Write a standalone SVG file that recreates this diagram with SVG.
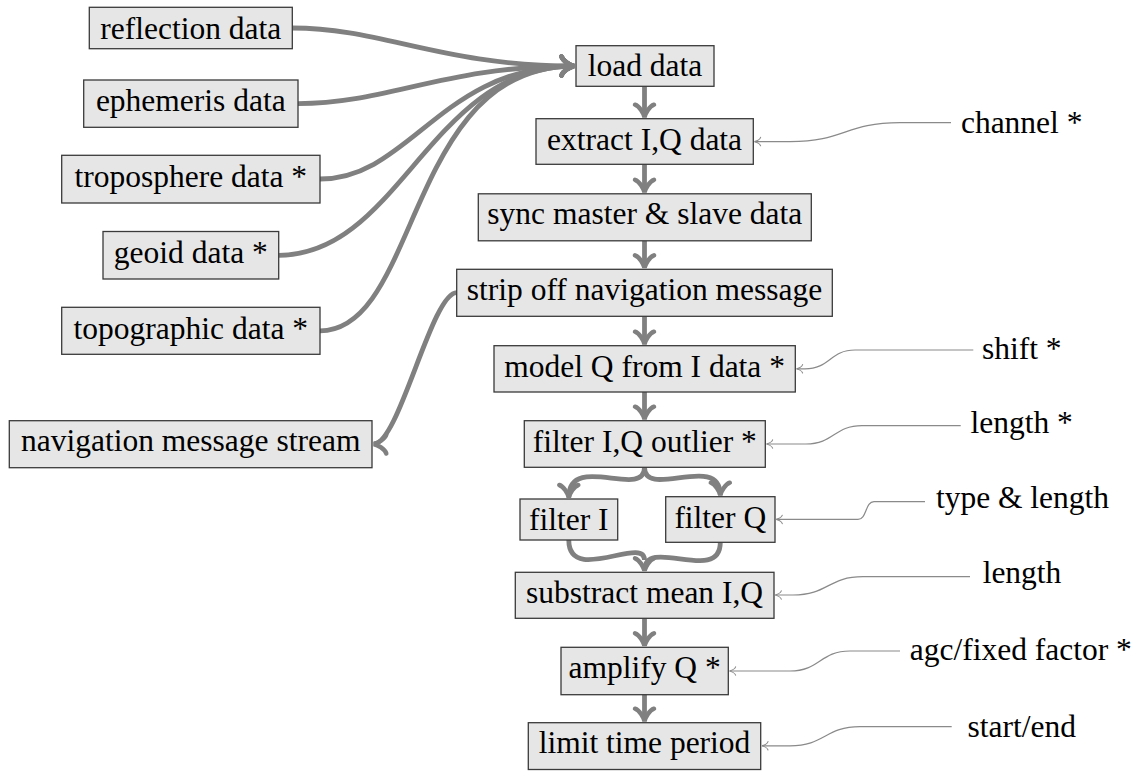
<svg xmlns="http://www.w3.org/2000/svg" width="1137" height="771" viewBox="0 0 1137 771">
<style>
.box{fill:#e6e6e6;stroke:#3a3a3a;stroke-width:1.3}
.t{font-family:"Liberation Serif","Times New Roman",serif;font-size:31.5px;fill:#000;text-anchor:middle}
.thick{fill:none;stroke:#808080;stroke-width:4.8}
.thin{fill:none;stroke:#8a8a8a;stroke-width:1.2}
</style>
<defs>
<marker id="ah" markerUnits="userSpaceOnUse" viewBox="-16 -13 20 26" refX="0" refY="0" markerWidth="20" markerHeight="26" orient="auto">
<path d="M-12.5,-9.5 C-11,-5 -4,-1 0,0 C-4,1 -11,5 -12.5,9.5" fill="none" stroke="#808080" stroke-width="4.5" stroke-linecap="round"/>
</marker>
<marker id="as" markerUnits="userSpaceOnUse" viewBox="-8 -6 10 12" refX="0" refY="0" markerWidth="10" markerHeight="12" orient="auto">
<path d="M-6,-4.2 C-5.5,-2.4 -2,-0.5 0,0 C-2,0.5 -5.5,2.4 -6,4.2" fill="none" stroke="#8a8a8a" stroke-width="1.1" stroke-linecap="round"/>
</marker>
</defs>

<g id="connectors">
<path class="thick" marker-end="url(#ah)" d="M292.3,28 C382,28 441,66 574,66"/>
<path class="thick" marker-end="url(#ah)" d="M298,103.6 C388,103.6 444,66 574,66"/>
<path class="thick" marker-end="url(#ah)" d="M320,179 C410,179 441,66 574,66"/>
<path class="thick" marker-end="url(#ah)" d="M278.7,255.3 C400,255.3 430,66 574,66"/>
<path class="thick" marker-end="url(#ah)" d="M320,330.8 C420,330.8 406,66 574,66"/>
<path class="thick" marker-end="url(#ah)" d="M456.7,292.6 C431.7,292.6 399,444 373.8,444"/>
<path class="thick" marker-end="url(#ah)" d="M644.5,86.3 V117.2"/>
<path class="thick" marker-end="url(#ah)" d="M644.5,164.3 V192.3"/>
<path class="thick" marker-end="url(#ah)" d="M644.5,241 V267.8"/>
<path class="thick" marker-end="url(#ah)" d="M644.5,316.3 V344.2"/>
<path class="thick" marker-end="url(#ah)" d="M644.5,392 V419.2"/>
<path class="thick" marker-end="url(#ah)" d="M644.5,467.3 C644.5,500 568.8,452 568.8,497.5"/>
<path class="thick" marker-end="url(#ah)" d="M644.5,467.3 C644.5,500 720.3,452 720.3,495.2"/>
<path class="thick" d="M568.8,540 C568.8,585 644.5,535 644.5,560"/>
<path class="thick" marker-end="url(#ah)" d="M720.3,542.3 C720.3,585 644.5,535 644.5,570.8"/>
<path class="thick" marker-end="url(#ah)" d="M644.5,618.3 V645.8"/>
<path class="thick" marker-end="url(#ah)" d="M644.5,694.7 V721.2"/>

<path class="thin" marker-end="url(#as)" d="M951,122.7 H900 C845,122.7 845,141.6 790,141.6 H754.6"/>
<path class="thin" marker-end="url(#as)" d="M973.3,350 H855 C830,350 830,368.8 805,368.8 H796.6"/>
<path class="thin" marker-end="url(#as)" d="M960.7,425.7 H862 C834,425.7 834,444 806,444 H766.6"/>
<path class="thin" marker-end="url(#as)" d="M925,501.7 H874 C865,501.7 867,519.4 858,519.4 H776.3"/>
<path class="thin" marker-end="url(#as)" d="M970,576.7 H863 C828,576.7 828,595 793,595 H775.3"/>
<path class="thin" marker-end="url(#as)" d="M900,651 H850 C820,651 820,671 790,671 H729.6"/>
<path class="thin" marker-end="url(#as)" d="M951.7,726.7 H860 C825,726.7 825,745.8 790,745.8 H762"/>
</g>

<g id="n-reflection"><rect class="box" x="89.3" y="7.3" width="203" height="41.4"/><text class="t" x="190.8" y="38.5">reflection data</text></g>
<g id="n-ephemeris"><rect class="box" x="83.7" y="80" width="214.3" height="47.3"/><text class="t" x="190.8" y="110.8">ephemeris data</text></g>
<g id="n-troposphere"><rect class="box" x="61.7" y="155.3" width="258.3" height="47.7"/><text class="t" x="190.8" y="186.5">troposphere data *</text></g>
<g id="n-geoid"><rect class="box" x="103" y="231.5" width="175.7" height="47.5"/><text class="t" x="190.8" y="263">geoid data *</text></g>
<g id="n-topographic"><rect class="box" x="61.7" y="307.3" width="258.3" height="47"/><text class="t" x="190.8" y="338.5">topographic data *</text></g>
<g id="n-navstream"><rect class="box" x="9.3" y="420.7" width="362.7" height="47"/><text class="t" x="190.7" y="451.3">navigation message stream</text></g>

<g id="n-load"><rect class="box" x="576" y="45.7" width="138" height="40.6"/><text class="t" x="645" y="76.3">load data</text></g>
<g id="n-extract"><rect class="box" x="536" y="118.7" width="217.3" height="45.6"/><text class="t" x="644.6" y="149.8">extract I,Q data</text></g>
<g id="n-sync"><rect class="box" x="478.3" y="193.8" width="333" height="47"/><text class="t" x="644.8" y="224">sync master &amp; slave data</text></g>
<g id="n-strip"><rect class="box" x="456.7" y="269.3" width="375.6" height="47"/><text class="t" x="644.5" y="299.6">strip off navigation message</text></g>
<g id="n-model"><rect class="box" x="494" y="345.7" width="301.3" height="46.3"/><text class="t" x="644.6" y="376.6">model Q from I data *</text></g>
<g id="n-outlier"><rect class="box" x="524.3" y="420.7" width="241" height="46.6"/><text class="t" x="644.8" y="451.6">filter I,Q outlier *</text></g>
<g id="n-filterI"><rect class="box" x="520" y="499" width="97.7" height="41"/><text class="t" x="568.8" y="530.4">filter I</text></g>
<g id="n-filterQ"><rect class="box" x="665.7" y="496.7" width="109.3" height="45.6"/><text class="t" x="720.3" y="527.8">filter Q</text></g>
<g id="n-substract"><rect class="box" x="515.3" y="572.3" width="258.7" height="46"/><text class="t" x="644.6" y="602.8">substract mean I,Q</text></g>
<g id="n-amplify"><rect class="box" x="561" y="647.3" width="167.3" height="47.4"/><text class="t" x="644.6" y="678.3">amplify Q *</text></g>
<g id="n-limit"><rect class="box" x="528.3" y="722.7" width="232.4" height="46.8"/><text class="t" x="644.5" y="752.5">limit time period</text></g>

<g id="l-channel"><text class="t" x="1021.7" y="133.3">channel *</text></g>
<g id="l-shift"><text class="t" x="1021.7" y="359.3">shift *</text></g>
<g id="l-length1"><text class="t" x="1021.7" y="433.3">length *</text></g>
<g id="l-type"><text class="t" x="1022.5" y="508.3">type &amp; length</text></g>
<g id="l-length2"><text class="t" x="1022" y="583.3">length</text></g>
<g id="l-agc"><text class="t" x="1020.8" y="660">agc/fixed factor *</text></g>
<g id="l-start"><text class="t" x="1021.7" y="736.7">start/end</text></g>
</svg>
